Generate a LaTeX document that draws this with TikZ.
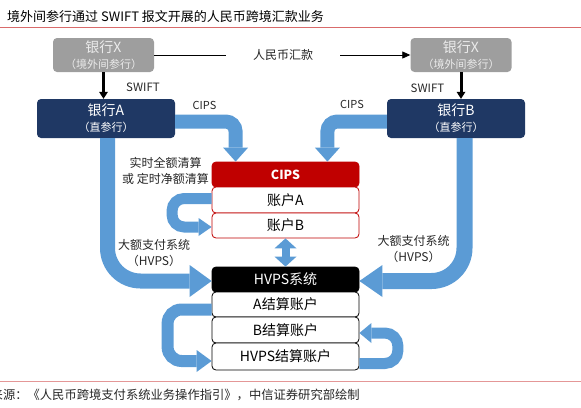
\documentclass[tikz,border=0pt]{standalone}
\usepackage{fontspec}
\setmainfont{Noto Sans CJK SC}
\usetikzlibrary{arrows.meta,calc}
\definecolor{ablue}{HTML}{5B9BD5}
\definecolor{navy}{HTML}{1F3864}
\definecolor{xgray}{HTML}{9E9E9E}
\definecolor{cipsred}{HTML}{C00000}
\definecolor{rulered}{HTML}{D96B6B}
\definecolor{txt}{HTML}{262626}
\newcommand\fsz[2]{\fontsize{#1}{#2}\selectfont}
\begin{document}
\begin{tikzpicture}[x=1pt,y=-1pt,
  xbox/.style={fill=xgray, rounded corners=4pt, minimum width=101pt, minimum height=34pt, text=white!92!black, align=center, inner sep=0pt, font=\fsz{14}{16}},
  abox/.style={fill=navy, rounded corners=4pt, minimum width=138pt, minimum height=39pt, text=white, align=center, inner sep=0pt, font=\fsz{14}{16}},
  acct/.style={rounded corners=4pt, minimum width=147pt, inner sep=0pt, font=\fsz{14}{16}, line width=0.8pt},
  redacct/.style={acct, draw=cipsred, fill=white},
  blkacct/.style={acct, draw=black, fill=white},
  lbl/.style={font=\fsz{12}{16}, align=center, inner sep=0pt, text=txt},
  barrow/.style n args={3}{draw=ablue, line width=#1, -{Triangle[width=#2,length=#3,line width=0pt]}},
  swift/.style={draw=black, line width=3pt, -{Triangle[width=9pt,length=7pt,line width=0pt]}},
]
\useasboundingbox (0,0) rectangle (581,407);

% title and rules
\node[anchor=west, inner sep=0pt, font=\fsz{13}{15}, text=black] (title) at (7,16.5) {境外间参行通过 SWIFT 报文开展的人民币跨境汇款业务};
\draw[rulered, line width=1pt] (0,27) coordinate (r1a) -- (581,27) coordinate (r1b);
\draw[rulered!70!white, line width=1pt] (0,381) coordinate (r2a) -- (581,381) coordinate (r2b);
\node[anchor=west, inner sep=0pt, font=\fsz{12.3}{15}, text=txt] (src) at (-9.5,395) {来源：《人民币跨境支付系统业务操作指引》，中信证券研究部绘制};

% banks
\node[xbox] (bankXL) at (103.5,55) {银行X\\\fsz{11}{16}（境外间参行）};
\node[xbox] (bankXR) at (461,55) {银行X\\\fsz{11}{16}（境外间参行）};
\node[abox] (bankA) at (106,118.5) {银行A\\\fsz{11}{16}（直参行）};
\node[abox] (bankB) at (456,118.5) {银行B\\\fsz{11}{16}（直参行）};

% CIPS stack
\node[acct, fill=cipsred, draw=cipsred, minimum height=25pt, text=white, font=\fsz{12.5}{16}\bfseries] (cips) at (285.5,174.5) {CIPS};
\node[redacct, minimum height=26pt] (accA) at (285.5,200) {账户A};
\node[redacct, minimum height=25pt] (accB) at (285.5,225.5) {账户B};

% HVPS stack
\node[acct, fill=black, draw=black, minimum height=25pt, text=white] (hvps) at (285.5,279.5) {HVPS系统};
\node[blkacct, minimum height=25pt] (setA) at (285.5,304.5) {A结算账户};
\node[blkacct, minimum height=26pt] (setB) at (285.5,330) {B结算账户};
\node[blkacct, minimum height=27pt] (setH) at (285.5,356.5) {HVPS结算账户};

% remittance
\node[lbl, minimum width=114pt] (remit) at (283,55) {人民币汇款};
\draw[line width=0.8pt] (bankXL.east) -- (remit.west);
\draw[line width=0.8pt, -{Triangle[width=7pt,length=8pt]}] (remit.east) -- (bankXR.west);

% SWIFT
\draw[swift] (bankXL.south) -- (bankXL.south |- bankA.north);
\draw[swift] (bankXR.south) -- (bankXR.south |- bankB.north);
\node[lbl, font=\fsz{11.5}{14}] (swL) at (143,87) {SWIFT};
\node[lbl, font=\fsz{11.5}{14}] (swR) at (427.5,88) {SWIFT};

% CIPS arrows
\draw[barrow={14pt}{25pt}{14pt}, rounded corners=10pt] ($(bankA.east)+(0,3)$) -| ($(cips.north west)+(24,0)$);
\draw[barrow={14pt}{25pt}{14pt}, rounded corners=10pt] ($(bankB.west)+(0,3)$) -| ($(cips.north east)+(-32,0)$);
\node[lbl, font=\fsz{11}{14}] (cipsL) at (204.5,105) {CIPS};
\node[lbl, font=\fsz{11}{14}] (cipsR) at (352,104) {CIPS};

% clearing loop
\draw[barrow={11pt}{18pt}{13pt}, rounded corners=12pt] ($(accA.west)+(0,-1.5)$) -- ++(-39.5,0) |- ($(accB.west)+(0,1.5)$);
\node[lbl] (clr) at (165.5,171) {实时全额清算\\或 定时净额清算};

% CIPS <-> HVPS
\draw[draw=ablue, line width=8pt, {Triangle[width=22pt,length=10pt,line width=0pt]}-{Triangle[width=22pt,length=10pt,line width=0pt]}] (accB.south) -- (hvps.north);

% HVPS big arrows
\draw[barrow={15pt}{32pt}{22pt}, rounded corners=33pt] ($(bankA.south)+(1.5,0)$) |- ($(hvps.west)+(0,1.5)$);
\draw[barrow={16pt}{32pt}{23pt}, rounded corners=33pt] ($(bankB.south)+(8.5,0)$) |- ($(hvps.east)+(0,1.5)$);
\node[lbl] (hvL) at (154,253) {大额支付系统\\（HVPS）};
\node[lbl] (hvR) at (413.5,249) {大额支付系统\\（HVPS）};

% settlement loops
\draw[barrow={12pt}{22pt}{15pt}, rounded corners=14pt] ($(setA.west)+(0,5)$) -- ++(-44,0) |- ($(setH.west)+(0,4.5)$);
\draw[barrow={11pt}{20pt}{12pt}, rounded corners=13pt] ($(setH.east)+(0,7)$) -- ++(38.5,0) |- ($(setB.east)+(0,3)$);
\end{tikzpicture}
\end{document}
